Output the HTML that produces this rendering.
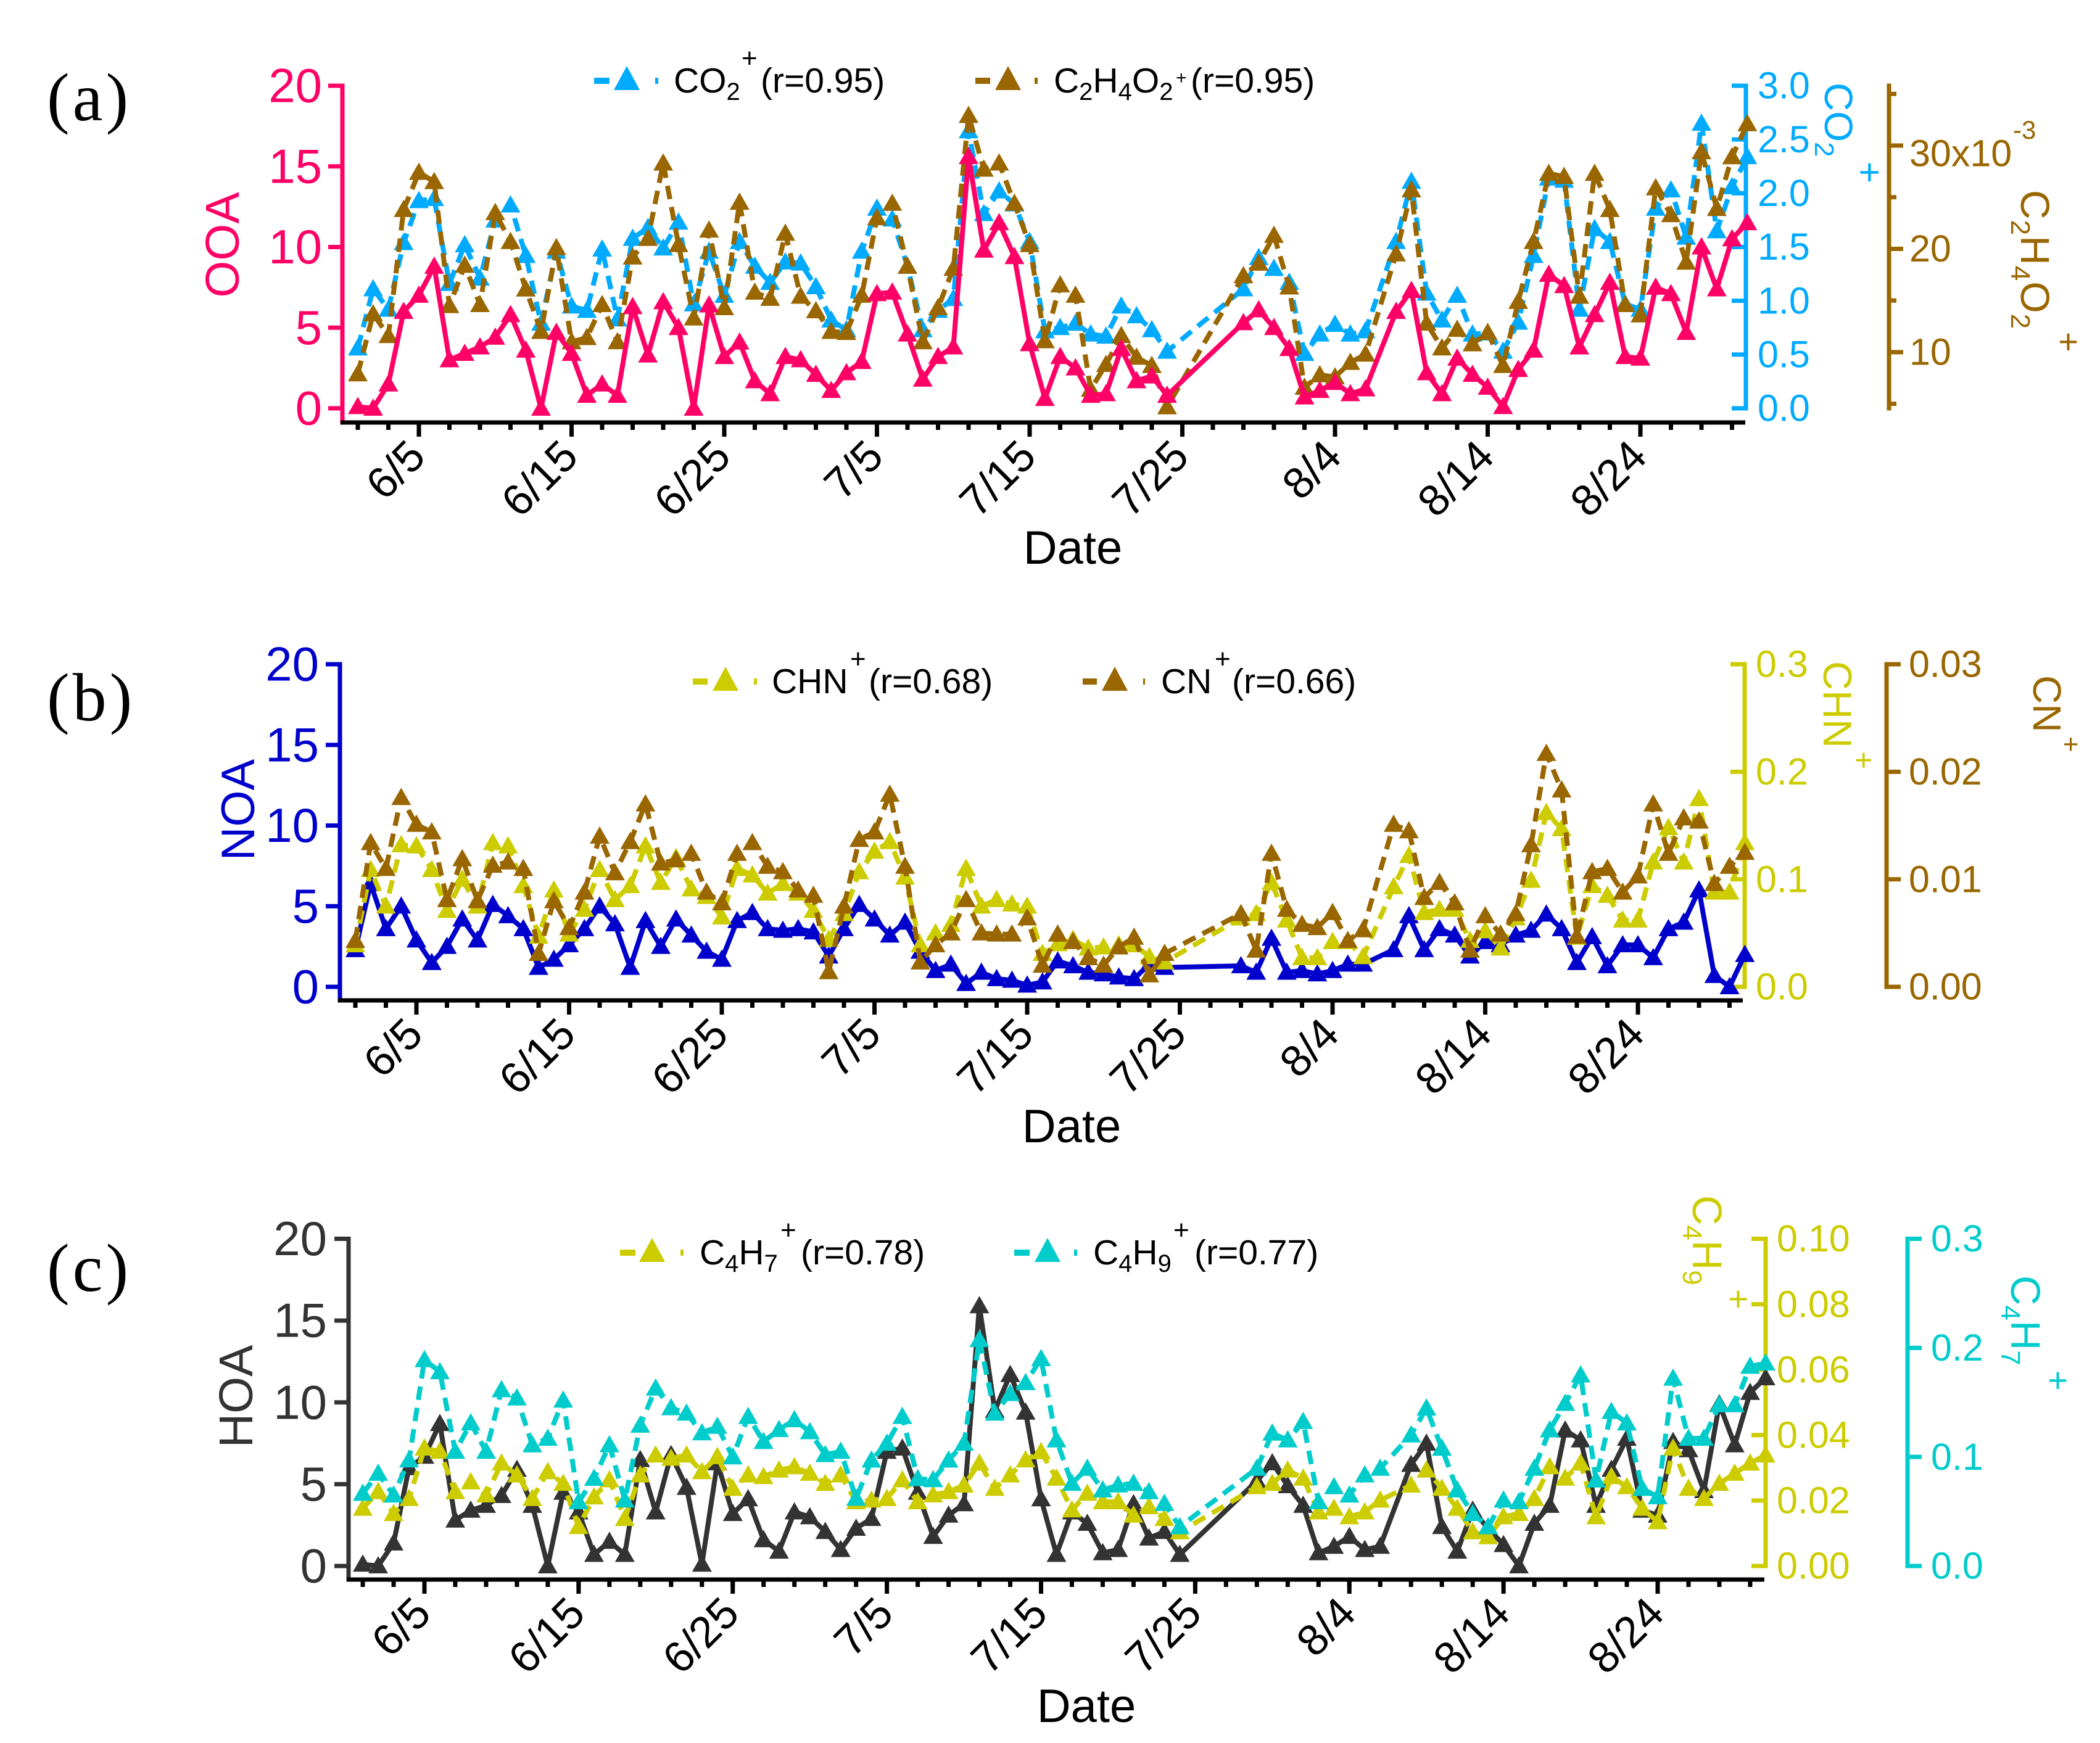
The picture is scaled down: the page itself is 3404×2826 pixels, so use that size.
<!DOCTYPE html>
<html lang="en">
<head>
<meta charset="utf-8">
<title>OOA, NOA and HOA time series with tracer ions</title>
<style>
html,body{margin:0;padding:0;background:#fff;}
svg{display:block;font-family:"Liberation Sans",sans-serif;}
.pl{font-family:"Liberation Serif",serif;font-size:110px;letter-spacing:5px;fill:#000;}
.lg{font-size:57px;fill:#000;}
.xt{font-size:71px;fill:#000;}
.dt{font-size:76px;fill:#000;text-anchor:middle;}
</style>
</head>
<body>
<svg id="chart" xmlns="http://www.w3.org/2000/svg" width="3404" height="2826" viewBox="0 0 3404 2826">
<rect width="3404" height="2826" fill="#fff"/>
<text class="pl" x="76" y="195">(a)</text>
<text class="pl" x="76" y="1168">(b)</text>
<text class="pl" x="76" y="2093">(c)</text>

<text class="dt" x="1739" y="914">Date</text>
<text class="dt" x="1737" y="1852">Date</text>
<text class="dt" x="1761" y="2792">Date</text>

<text transform="translate(387,397) rotate(-90)" text-anchor="middle" font-size="77" fill="#ff0066">OOA</text>
<text transform="translate(412,1313) rotate(-90)" text-anchor="middle" font-size="76" fill="#0000cc">NOA</text>
<text transform="translate(409,2264) rotate(-90)" text-anchor="middle" font-size="77" fill="#333333">HOA</text>

<g fill="#00aaff">
<text transform="translate(2958,134) rotate(90)" font-size="64">CO<tspan font-size="44" dy="16">2</tspan></text>
<text transform="translate(3010,262) rotate(90)" font-size="60">+</text>
</g>
<g fill="#996600">
<text transform="translate(3276,308) rotate(90)" font-size="66" letter-spacing="1">C<tspan font-size="44" dy="16">2</tspan><tspan dy="-16">H</tspan><tspan font-size="44" dy="16">4</tspan><tspan dy="-16">O</tspan><tspan font-size="44" dy="16">2</tspan></text>
<text transform="translate(3334,538) rotate(90)" font-size="56">+</text>
</g>
<g fill="#cccc00">
<text transform="translate(2956,1072) rotate(90)" font-size="65">CHN</text>
<text transform="translate(3004,1218) rotate(90)" font-size="50">+</text>
</g>
<g fill="#996600">
<text transform="translate(3296,1095) rotate(90)" font-size="64">CN</text>
<text transform="translate(3342,1194) rotate(90)" font-size="44">+</text>
</g>
<g fill="#cccc00">
<text transform="translate(2744,1938) rotate(90)" font-size="67">C<tspan font-size="44" dy="16">4</tspan><tspan dy="-16">H</tspan><tspan font-size="44" dy="16">9</tspan></text>
<text transform="translate(2799,2090) rotate(90)" font-size="56">+</text>
</g>
<g fill="#00cccc">
<text transform="translate(3260,2068) rotate(90)" font-size="67">C<tspan font-size="44" dy="16">4</tspan><tspan dy="-16">H</tspan><tspan font-size="44" dy="16">7</tspan></text>
<text transform="translate(3317,2222) rotate(90)" font-size="56">+</text>
</g>

<text x="3263" y="225" font-size="42" fill="#996600">-3</text>

<g id="legends">
<g>
<line x1="963" x2="988" y1="131" y2="131" stroke="#00aaff" stroke-width="10"/>
<polygon points="1016,107 1037,146 995,146" fill="#00aaff"/>
<line x1="1062" x2="1067" y1="131" y2="131" stroke="#00aaff" stroke-width="10"/>
<text class="lg" x="1092" y="150">CO<tspan font-size="40" dy="12">2</tspan></text>
<text x="1202" y="109" font-size="44" fill="#000">+</text>
<text class="lg" x="1233" y="150">(r=0.95)</text>
</g>
<g>
<line x1="1581" x2="1605" y1="131" y2="131" stroke="#996600" stroke-width="10"/>
<polygon points="1634,107 1655,146 1613,146" fill="#996600"/>
<line x1="1677" x2="1682" y1="131" y2="131" stroke="#996600" stroke-width="10"/>
<text class="lg" x="1708" y="150">C<tspan font-size="40" dy="12">2</tspan><tspan dy="-12">H</tspan><tspan font-size="40" dy="12">4</tspan><tspan dy="-12">O</tspan><tspan font-size="40" dy="12">2</tspan></text>
<text x="1906" y="136" font-size="30" fill="#000">+</text>
<text class="lg" x="1930" y="150">(r=0.95)</text>
</g>
<g>
<line x1="1123" x2="1147" y1="1105" y2="1105" stroke="#cccc00" stroke-width="10"/>
<polygon points="1176,1081 1197,1120 1155,1120" fill="#cccc00"/>
<line x1="1222" x2="1227" y1="1105" y2="1105" stroke="#cccc00" stroke-width="10"/>
<text class="lg" x="1251" y="1124">CHN</text>
<text x="1378" y="1083" font-size="44" fill="#000">+</text>
<text class="lg" x="1408" y="1124">(r=0.68)</text>
</g>
<g>
<line x1="1755" x2="1778" y1="1105" y2="1105" stroke="#996600" stroke-width="10"/>
<polygon points="1807,1081 1828,1120 1786,1120" fill="#996600"/>
<line x1="1853" x2="1856" y1="1105" y2="1105" stroke="#996600" stroke-width="10"/>
<text class="lg" x="1882" y="1124">CN</text>
<text x="1969" y="1083" font-size="44" fill="#000">+</text>
<text class="lg" x="1997" y="1124">(r=0.66)</text>
</g>
<g>
<line x1="1005" x2="1030" y1="2031" y2="2031" stroke="#cccc00" stroke-width="10"/>
<polygon points="1057,2007 1078,2046 1036,2046" fill="#cccc00"/>
<line x1="1103" x2="1108" y1="2031" y2="2031" stroke="#cccc00" stroke-width="10"/>
<text class="lg" x="1134" y="2050">C<tspan font-size="40" dy="12">4</tspan><tspan dy="-12">H</tspan><tspan font-size="40" dy="12">7</tspan></text>
<text x="1265" y="2009" font-size="44" fill="#000">+</text>
<text class="lg" x="1298" y="2050">(r=0.78)</text>
</g>
<g>
<line x1="1644" x2="1669" y1="2031" y2="2031" stroke="#00cccc" stroke-width="10"/>
<polygon points="1698,2007 1719,2046 1677,2046" fill="#00cccc"/>
<line x1="1741" x2="1746" y1="2031" y2="2031" stroke="#00cccc" stroke-width="10"/>
<text class="lg" x="1772" y="2050">C<tspan font-size="40" dy="12">4</tspan><tspan dy="-12">H</tspan><tspan font-size="40" dy="12">9</tspan></text>
<text x="1902" y="2009" font-size="44" fill="#000">+</text>
<text class="lg" x="1936" y="2050">(r=0.77)</text>
</g>
</g>
<g id="plots"></g>
</svg>
<script>
// Categories: day index 0 = 6/1 ... 91 = 8/31; null = no sample that day
const majorTickLabels = ["6/5","6/15","6/25","7/5","7/15","7/25","8/4","8/14","8/24"];
const majorTickDays = [4,14,24,34,44,54,64,74,84];
const minorTickDays = [0,2,4,6,8,10,12,14,16,18,20,22,24,26,28,30,32,34,36,38,40,42,44,46,48,50,52,54,56,58,60,62,64,66,68,70,72,74,76,78,80,82,84,86,88,90];

const ooa = [0.1,0,1.5,6,7,8.8,3,3.4,3.8,4.4,5.8,3.6,0,4.7,3.4,0.8,1.5,0.8,6.3,3.3,6.6,5,0,6.4,3.2,4.1,1.7,0.9,3.2,3,2.1,1.1,2.2,2.9,7.1,7.2,4.6,1.8,3.2,3.8,15.6,9.8,11.5,9.4,4,0.6,3.2,2.5,0.8,0.9,3.7,1.7,2,0.8,null,null,null,null,5.3,6.1,5,3.7,0.7,1.1,1.6,0.9,1.2,null,6,7.3,2.2,0.9,3.1,2.1,1.3,0.1,2.4,3.6,8.3,7.6,3.8,5.8,7.8,3.2,3.1,7.5,7.1,4.7,10,7.4,10.5,11.5];
const co2 = [0.56,1.11,0.92,1.54,1.93,1.95,1.16,1.52,1.21,1.75,1.89,1.42,0.79,1.46,0.95,0.91,1.48,0.83,1.58,1.68,1.49,1.73,0.97,1.46,1.05,1.55,1.32,1.17,1.36,1.35,1.13,0.82,0.73,1.46,1.86,1.76,1.32,0.73,0.91,1.02,2.58,1.81,2.02,1.9,1.55,0.72,0.75,0.79,0.69,0.67,0.95,0.86,0.73,0.53,null,null,null,null,1.11,1.4,1.3,1.17,0.51,0.69,0.78,0.69,0.72,null,1.55,2.11,1.07,0.82,1.05,0.69,0.7,0.53,0.8,1.42,2.14,2.12,0.92,1.67,1.55,0.97,0.92,1.86,2.03,1.59,2.65,1.65,2.06,2.34];
const c2h4o2 = [7.9,13.7,11.6,23.8,27.4,26.5,14.5,18.4,14.6,23.5,20.7,16.1,12,20.1,11,11.4,14.6,11,19.2,21,28.3,20.4,13.3,21.8,14.3,24.5,15.8,15.2,21.5,15.4,14,12,11.9,15.5,23,24.4,18.3,11,14.3,18.1,32.9,27.7,28.3,24.4,20.4,11.1,16.5,15.5,6.4,8.8,11.6,9.5,8.7,4.7,null,null,null,null,17.4,18.6,21.3,16.3,6.6,7.8,7.6,9,9.8,null,19.5,25.7,12.8,10.4,12.2,10.8,11.9,8.7,14.9,20.7,27.3,27,15.4,27.3,23.8,14.6,13.6,25.9,23.3,18.7,29.4,23.9,28.9,32.1];

const noa = [2.3,6.4,3.6,5,2.9,1.5,2.5,4.2,2.9,5.1,4.4,3.6,1.2,1.7,2.6,3.6,5,3.9,1.2,4.1,2.5,4.2,3.2,2.2,1.7,4.1,4.6,3.6,3.5,3.6,3.4,1.9,3.6,5.1,4.2,3.2,4,2.2,1,1.4,0.2,0.9,0.5,0.4,0.1,0.3,1.6,1.3,0.9,0.8,0.6,0.5,1.4,1.2,null,null,null,null,1.3,0.9,3,0.9,1,0.8,1,1.4,1.4,null,2.3,4.4,2.3,3.6,3.2,1.9,2.8,2.6,3.2,3.5,4.5,3.6,1.5,3.1,1.3,2.6,2.6,1.8,3.6,4,6,0.7,0,2];
const chn = [0.039,0.109,0.075,0.132,0.131,0.109,0.071,0.1,0.075,0.134,0.131,0.094,0.047,0.09,0.049,0.072,0.109,0.081,0.094,0.131,0.097,0.12,0.091,0.084,0.065,0.11,0.104,0.087,0.096,0.087,0.071,0.044,0.068,0.107,0.126,0.135,0.102,0.039,0.05,0.058,0.11,0.075,0.081,0.077,0.075,0.031,0.04,0.044,0.036,0.037,0.039,0.039,0.028,0.023,null,null,null,null,0.064,0.068,0.097,0.062,0.027,0.027,0.042,0.042,0.028,null,0.093,0.122,0.069,0.072,0.072,0.043,0.052,0.036,0.064,0.099,0.162,0.147,0.046,0.094,0.085,0.062,0.062,0.116,0.148,0.116,0.175,0.088,0.088,0.134];
const cn = [0.0043,0.0134,0.011,0.0176,0.0151,0.0144,0.0081,0.0119,0.008,0.0113,0.0116,0.011,0.0031,0.008,0.0055,0.0088,0.014,0.0106,0.0135,0.017,0.0115,0.0118,0.0124,0.0088,0.0078,0.0124,0.0134,0.0112,0.0107,0.009,0.0085,0.0014,0.0075,0.0137,0.0144,0.0179,0.0112,0.0023,0.0039,0.005,0.0081,0.005,0.0049,0.0049,0.0064,0.002,0.0049,0.0042,0.0027,0.002,0.0037,0.0046,0.0011,0.0031,null,null,null,null,0.0068,0.0034,0.0124,0.0072,0.0058,0.0055,0.0069,0.0043,0.0053,null,0.0151,0.0145,0.0083,0.0097,0.0078,0.0034,0.0066,0.0049,0.0068,0.0132,0.0217,0.0183,0.0047,0.0107,0.011,0.0088,0.0103,0.017,0.0124,0.0157,0.0154,0.0096,0.0112,0.0125];

const hoa = [0.1,0,1.4,6,6.7,8.7,2.8,3.4,3.7,4.3,5.9,3.7,0,4.5,3.3,0.7,1.5,0.7,6.5,3.3,6.8,4.8,0.1,6.3,3.2,4.1,1.6,0.9,3.3,3,2.1,1,2.3,2.9,7,7.2,4.5,1.8,3.1,3.8,15.9,9.5,11.7,9.4,4.1,0.7,3.3,2.6,0.8,1,3.8,1.7,2.1,0.7,null,null,null,null,5.2,6.3,4.9,3.7,0.8,1.2,1.8,1,1.2,null,6.2,7.5,2.4,0.9,3.4,2.3,1.3,0,2.6,3.7,8.3,7.7,3.7,5.9,7.8,3.4,3.1,7.6,7.1,4.6,9.9,7.4,10.6,11.5];
const c4h7 = [0.0176,0.0227,0.016,0.0206,0.036,0.035,0.0227,0.0257,0.0217,0.0314,0.0278,0.0206,0.0288,0.0252,0.012,0.0211,0.0263,0.0145,0.0278,0.0339,0.0329,0.0339,0.0288,0.0334,0.0237,0.0278,0.0273,0.0293,0.0303,0.0283,0.0252,0.0278,0.0196,0.0201,0.0206,0.0263,0.0196,0.0217,0.0227,0.0247,0.0314,0.0237,0.0278,0.0324,0.0349,0.0268,0.0171,0.0222,0.0196,0.0196,0.0155,0.0181,0.0145,0.0104,null,null,null,null,0.0242,0.0252,0.0293,0.0268,0.0165,0.0176,0.015,0.0165,0.0201,null,0.0247,0.0293,0.0237,0.0176,0.0104,0.0089,0.015,0.016,0.0206,0.0303,0.0268,0.0314,0.015,0.0273,0.0242,0.0176,0.0135,0.036,0.0237,0.0206,0.0252,0.0283,0.0314,0.0339];
const c4h9 = [0.0665,0.0849,0.065,0.0971,0.189,0.178,0.105,0.131,0.105,0.1615,0.154,0.111,0.117,0.152,0.0588,0.0803,0.111,0.0604,0.129,0.163,0.145,0.14,0.122,0.128,0.1,0.137,0.114,0.125,0.134,0.123,0.102,0.105,0.062,0.097,0.1125,0.137,0.08,0.079,0.097,0.1125,0.2075,0.14,0.158,0.168,0.19,0.1155,0.0757,0.0895,0.0696,0.0742,0.0757,0.068,0.0573,0.0359,null,null,null,null,0.0895,0.1217,0.1155,0.1324,0.0588,0.0726,0.065,0.0834,0.0895,null,0.12,0.1447,0.1079,0.0696,0.048,0.0359,0.0604,0.0588,0.0895,0.1247,0.149,0.175,0.0788,0.1416,0.131,0.071,0.0634,0.172,0.117,0.117,0.1477,0.1477,0.183,0.186];

// Tick values and labels
const leftTicks = [0,5,10,15,20];
const co2Ticks = [0,0.5,1,1.5,2,2.5,3];
const co2TickLabels = ["0.0","0.5","1.0","1.5","2.0","2.5","3.0"];
const c2h4o2Major = [10,20,30];
const c2h4o2MajorLabels = ["10","20","30x10"];
const c2h4o2Minor = [5,15,25,35];
const chnTicks = [0,0.1,0.2,0.3];
const chnTickLabels = ["0.0","0.1","0.2","0.3"];
const cnTicks = [0,0.01,0.02,0.03];
const cnTickLabels = ["0.00","0.01","0.02","0.03"];
const c4h9AxisTicks = [0,0.02,0.04,0.06,0.08,0.1];
const c4h9AxisLabels = ["0.00","0.02","0.04","0.06","0.08","0.10"];
const c4h7AxisTicks = [0,0.1,0.2,0.3];
const c4h7AxisLabels = ["0.0","0.1","0.2","0.3"];

const NS = 'http://www.w3.org/2000/svg';
const root = document.getElementById('plots');
function mk(tag, attrs, parent){
  const e = document.createElementNS(NS, tag);
  for (const k in attrs) e.setAttribute(k, attrs[k]);
  (parent || root).appendChild(e);
  return e;
}
function linear(d0, d1, r0, r1){ return v => r0 + (v - d0) * (r1 - r0) / (d1 - d0); }

function drawXAxis(g, x, y0, xStart, xEnd){
  const line = mk('line', {x1:xStart, x2:xEnd, y1:y0, y2:y0, stroke:'#000', 'stroke-width':7}, g);
  
  
  minorTickDays.forEach(d => {
    const t = mk('line', {x1:x(d), x2:x(d), y1:y0, y2:y0+12, stroke:'#000', 'stroke-width':7}, g);
    
    
  });
  majorTickDays.forEach((d, i) => {
    const t = mk('line', {x1:x(d), x2:x(d), y1:y0, y2:y0+23, stroke:'#000', 'stroke-width':7}, g);
    
    
    const px = x(d) + 14, py = y0 + 59;
    const lb = mk('text', {class:'xt', 'text-anchor':'end', transform:'translate('+px+','+py+') rotate(-45)'}, g);
    lb.textContent = majorTickLabels[i];
    
    
  });
}

function drawYAxis(g, name, y, axisX, top, bottom, color, side, majors, labels, minors, labelX, anchor, fontSize, lastLabelDrop){
  const ax = mk('line', {x1:axisX, x2:axisX, y1:top-3.5, y2:bottom+3.5, stroke:color, 'stroke-width':7}, g);
  
  
  majors.forEach((v, i) => {
    const yy = y(v);
    const t = mk('line', {x1:axisX, x2:axisX + side*23, y1:yy, y2:yy, stroke:color, 'stroke-width':7}, g);
    
    
    const drop = (lastLabelDrop && i === majors.length - 1) ? lastLabelDrop : 0;
    const lb = mk('text', {x:labelX, y:yy + fontSize*0.34 + drop, 'font-size':fontSize, fill:color, 'text-anchor':anchor}, g);
    lb.textContent = labels[i];
    
    
  });
  minors.forEach(v => {
    const yy = y(v);
    const t = mk('line', {x1:axisX, x2:axisX + side*12, y1:yy, y2:yy, stroke:color, 'stroke-width':7}, g);
    
    
  });
}

function drawSeries(g, name, values, x, y, color, dashed){
  const pts = [];
  values.forEach((v, d) => { if (v !== null) pts.push([x(d), y(v)]); });
  const line = mk('polyline', {
    points: pts.map(p => p[0].toFixed(1) + ',' + p[1].toFixed(1)).join(' '),
    fill:'none', stroke:color, 'stroke-width':8, 'stroke-linejoin':'round'
  }, g);
  if (dashed) line.setAttribute('stroke-dasharray', '22 13');
  
  
  pts.forEach(p => {
    const m = mk('polygon', {
      points: p[0].toFixed(1)+','+(p[1]-16).toFixed(1)+' '+(p[0]+16).toFixed(1)+','+(p[1]+12).toFixed(1)+' '+(p[0]-16).toFixed(1)+','+(p[1]+12).toFixed(1),
      fill:color
    }, g);
    
    
  });
}

/* Panel a */
(function(){
  const g = mk('g', {});
  
  
  const x = linear(4, 84, 679, 2659);
  const yL = linear(0, 20, 662, 139);
  const yR = linear(0, 3, 662, 139);
  const yB = linear(10, 30, 571, 236);
  drawYAxis(g, 'ooa', yL, 555, 139, 685, '#ff0066', -1, leftTicks, leftTicks.map(String), [], 522, 'end', 78);
  drawYAxis(g, 'co2', yR, 2830, 139, 662, '#00aaff', -1, co2Ticks, co2TickLabels, [], 2849, 'start', 61);
  drawYAxis(g, 'c2h4o2', yB, 3062, 139, 662, '#996600', 1, c2h4o2Major, c2h4o2MajorLabels, c2h4o2Minor, 3095, 'start', 61, 13);
  drawXAxis(g, x, 685, 552, 2829);
  drawSeries(g, 'co2', co2, x, yR, '#00aaff', true);
  drawSeries(g, 'c2h4o2', c2h4o2, x, yB, '#996600', true);
  drawSeries(g, 'ooa', ooa, x, yL, '#ff0066', false);
})();

/* Panel b */
(function(){
  const g = mk('g', {});
  
  
  const x = linear(4, 84, 675, 2655);
  const yL = linear(0, 20, 1600, 1077);
  const yC = linear(0, 0.3, 1600, 1077);
  const yN = linear(0, 0.03, 1600, 1077);
  drawYAxis(g, 'noa', yL, 551, 1077, 1622, '#0000cc', -1, leftTicks, leftTicks.map(String), [], 517, 'end', 78);
  drawYAxis(g, 'chn', yC, 2828, 1077, 1600, '#cccc00', -1, chnTicks, chnTickLabels, [], 2846, 'start', 61);
  drawYAxis(g, 'cn', yN, 3058, 1077, 1600, '#996600', 1, cnTicks, cnTickLabels, [], 3094, 'start', 61);
  drawXAxis(g, x, 1622, 548, 2825);
  drawSeries(g, 'noa', noa, x, yL, '#0000cc', false);
  drawSeries(g, 'chn', chn, x, yC, '#cccc00', true);
  drawSeries(g, 'cn', cn, x, yN, '#996600', true);
})();

/* Panel c */
(function(){
  const g = mk('g', {});
  
  
  const x = linear(4, 84, 688, 2687);
  const yL = linear(0, 20, 2539, 2008.5);
  const yY = linear(0, 0.1, 2539, 2008.5);
  const yC = linear(0, 0.3, 2539, 2008.5);
  drawYAxis(g, 'hoa', yL, 565, 2008.5, 2561, '#333333', -1, leftTicks, leftTicks.map(String), [], 530, 'end', 78);
  drawYAxis(g, 'c4h9', yY, 2862, 2008.5, 2539, '#cccc00', -1, c4h9AxisTicks, c4h9AxisLabels, [], 2880, 'start', 61);
  drawYAxis(g, 'c4h7', yC, 3092, 2008.5, 2539, '#00cccc', 1, c4h7AxisTicks, c4h7AxisLabels, [], 3130, 'start', 61);
  drawXAxis(g, x, 2561, 562, 2860);
  drawSeries(g, 'hoa', hoa, x, yL, '#333333', false);
  drawSeries(g, 'c4h7', c4h7, x, yY, '#cccc00', true);
  drawSeries(g, 'c4h9', c4h9, x, yC, '#00cccc', true);
})();
</script>
</body>
</html>
